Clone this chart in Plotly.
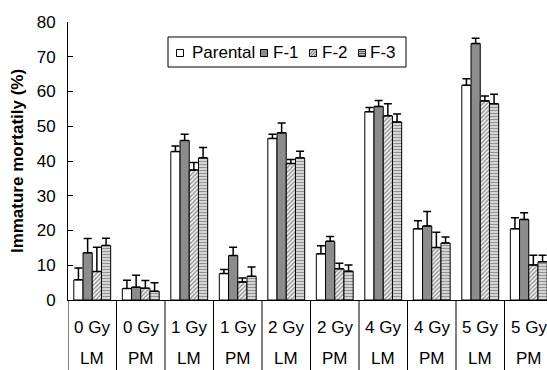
import plotly.graph_objects as go

# Dose / stage categories
doses = ["0 Gy", "0 Gy", "1 Gy", "1 Gy", "2 Gy", "2 Gy", "4 Gy", "4 Gy", "5 Gy", "5 Gy"]
stages = ["LM", "PM", "LM", "PM", "LM", "PM", "LM", "PM", "LM", "PM"]

# Immature mortality (%) per line, with upper error (SE)
parental = [5.8, 3.3, 42.7, 7.6, 46.5, 13.3, 54.2, 20.5, 61.8, 20.5]
parental_err = [3.4, 2.4, 1.6, 1.2, 1.2, 2.3, 1.2, 2.3, 1.9, 3.2]
f1 = [13.6, 3.7, 45.9, 12.8, 48.1, 16.9, 55.7, 21.3, 73.8, 23.2]
f1_err = [4.1, 3.4, 1.8, 2.4, 2.8, 1.4, 1.7, 4.2, 1.5, 1.9]
f2 = [8.2, 3.4, 37.4, 5.2, 39.3, 9.0, 53.0, 15.1, 57.3, 10.1]
f2_err = [7.0, 2.2, 2.2, 1.1, 1.1, 1.6, 3.5, 4.4, 1.4, 2.8]
f3 = [15.7, 2.5, 40.9, 6.8, 40.9, 8.3, 51.2, 16.4, 56.5, 11.0]
f3_err = [2.1, 2.5, 3.0, 2.7, 1.9, 1.8, 2.3, 1.7, 2.7, 1.9]

y_ticks = [0, 10, 20, 30, 40, 50, 60, 70, 80]

FONT = "Arial, Liberation Sans, sans-serif"
FS = 17
cats = [f"{d} {s}" for d, s in zip(doses, stages)]

PAT_F2 = dict(shape="/", fgcolor="#333333", bgcolor="white", size=3, solidity=0.55)
PAT_F3 = dict(shape="-", fgcolor="#444444", bgcolor="#e2e2e2", size=3, solidity=0.45)

series = [
    ("Parental", parental, parental_err, dict(color="white")),
    ("F-1", f1, f1_err, dict(color="#8c8c8c")),
    ("F-2", f2, f2_err, dict(color="white", pattern=PAT_F2)),
    ("F-3", f3, f3_err, dict(color="#e2e2e2", pattern=PAT_F3)),
]

fig = go.Figure()
for name, vals, err, mk in series:
    mk = dict(mk)
    mk["line"] = dict(color="black", width=1)
    fig.add_trace(go.Bar(
        name=name, x=cats, y=vals, marker=mk, showlegend=False,
        error_y=dict(type="data", array=err, arrayminus=[0] * len(err), symmetric=False,
                     color="black", thickness=1.5, width=4),
    ))

W, H = 547, 370
ML, MT, MB = 68, 22, 70
PW, PH = W - ML, H - MT - MB
cat_px = 48.5
span = PW / cat_px


def px_x(p):
    return (p - ML) / PW


def px_y(p):
    return (H - MB - p) / PH


shapes = []
annotations = []

# two-row category labels with separators below the axis
row1_y, row2_y = px_y(327), px_y(358.5)
for i, (d, s) in enumerate(zip(doses, stages)):
    annotations.append(dict(x=i, y=row1_y, xref="x", yref="paper", text=d, showarrow=False,
                            font=dict(size=FS), xanchor="center", yanchor="middle"))
    annotations.append(dict(x=i, y=row2_y, xref="x", yref="paper", text=s, showarrow=False,
                            font=dict(size=FS), xanchor="center", yanchor="middle",
                            borderpad=0))
for i in range(len(cats) + 1):
    shapes.append(dict(type="line", xref="x", yref="paper", x0=i - 0.5, x1=i - 0.5,
                       y0=0, y1=px_y(H + 5), line=dict(color="black", width=1)))

# legend box
lx0, lx1, ly0, ly1 = 168, 406, 37, 67
shapes.append(dict(type="rect", xref="paper", yref="paper",
                   x0=px_x(lx0), x1=px_x(lx1), y0=px_y(ly1), y1=px_y(ly0),
                   fillcolor="white", line=dict(color="black", width=1), layer="above"))
ly = (ly0 + ly1) / 2
legend_items = [("Parental", 180, 190), ("F-1", 264, 271), ("F-2", 313, 320), ("F-3", 362, 368)]
sym_fill = {"Parental": "white", "F-1": "#8c8c8c", "F-2": "#c8c8c8", "F-3": "#bdbdbd"}
half = 3.5
for name, sx, tx in legend_items:
    shapes.append(dict(type="rect", xref="paper", yref="paper",
                       x0=px_x(sx - half), x1=px_x(sx + half),
                       y0=px_y(ly + half + 1), y1=px_y(ly - half + 1),
                       fillcolor=sym_fill[name], line=dict(color="black", width=1),
                       layer="above"))
    if name == "F-2":
        for k in (-2, 1, 4):
            shapes.append(dict(type="line", xref="paper", yref="paper",
                               x0=px_x(sx - half + max(0, k)), y0=px_y(ly + half + 1 - max(0, -k)),
                               x1=px_x(sx + half - max(0, -k)), y1=px_y(ly - half + 1 + max(0, k)),
                               line=dict(color="#555555", width=0.6), layer="above"))
    if name == "F-3":
        for k in (-1.5, 0.5, 2.5):
            shapes.append(dict(type="line", xref="paper", yref="paper",
                               x0=px_x(sx - half), x1=px_x(sx + half),
                               y0=px_y(ly + 1 + k), y1=px_y(ly + 1 + k),
                               line=dict(color="#444444", width=0.8), layer="above"))
    annotations.append(dict(x=px_x(tx), y=px_y(ly), xref="paper", yref="paper", text=name,
                            showarrow=False, font=dict(size=FS), xanchor="left",
                            yanchor="middle"))

fig.update_layout(
    width=W, height=H,
    margin=dict(l=ML, r=0, t=MT, b=MB),
    paper_bgcolor="white", plot_bgcolor="white",
    font=dict(family=FONT, size=FS, color="black"),
    barmode="group", bargap=0.24, bargroupgap=0,
    showlegend=False,
    shapes=shapes, annotations=annotations,
    xaxis=dict(type="category", range=[-0.5, -0.5 + span], categoryorder="array",
               categoryarray=cats, showticklabels=False, ticks="",
               showline=True, linecolor="black", linewidth=1, showgrid=False),
    yaxis=dict(range=[0, 80], tickvals=y_ticks, showline=True, linecolor="black",
               linewidth=1, ticks="inside", ticklen=5, tickcolor="black",
               ticklabelstandoff=8,
               showgrid=False, zeroline=False, tickfont=dict(size=FS),
               title=dict(text="<b>Immature mortatily (%)</b>", font=dict(size=FS),
                          standoff=8)),
)

fig.write_html("out.html")
